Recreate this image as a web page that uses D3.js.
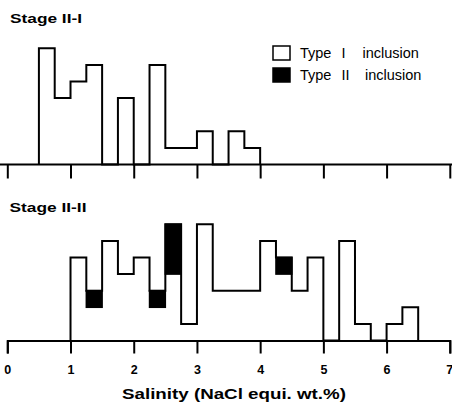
<!DOCTYPE html>
<html>
<head>
  <script src="https://d3js.org/d3.v7.min.js"></script>
  <style>
    body { margin: 0; background: #fff; }
    text { font-family: "Liberation Sans", Arial, sans-serif; }
  </style>
</head>
<body>
  <svg id="chart" width="452" height="405"></svg>

  <script>
    // histogram bins (lower edge, width 0.25)
    var binWidth = 0.25;
    var stage1Bins = [0.5, 0.75, 1.0, 1.25, 1.5, 1.75, 2.0, 2.25, 2.5, 2.75, 3.0, 3.25, 3.5, 3.75];
    var stage1TypeI = [7, 4, 5, 6, 0, 4, 0, 6, 1, 1, 2, 0, 2, 1];

    var stage2Bins = [1.0, 1.25, 1.5, 1.75, 2.0, 2.25, 2.5, 2.75, 3.0, 3.25, 3.5, 3.75,
                      4.0, 4.25, 4.5, 4.75, 5.0, 5.25, 5.5, 5.75, 6.0, 6.25];
    var stage2TypeI = [5, 2, 6, 4, 5, 2, 4, 1, 7, 3, 3, 3, 6, 4, 3, 5, 0, 6, 1, 0, 1, 2];
    var stage2TypeII = [0, 1, 0, 0, 0, 1, 3, 0, 0, 0, 0, 0, 0, 1, 0, 0, 0, 0, 0, 0, 0, 0];

    var xTicks = [0, 1, 2, 3, 4, 5, 6, 7];
    var legendLabels = [["Type", "I", "inclusion"], ["Type", "II", "inclusion"]];

    var svg = d3.select("#chart");

    var x = d3.scaleLinear().domain([0, 7]).range([7.3, 449.8]);
    var yTop = d3.scaleLinear().domain([0, 7]).range([164.5, 48.3]);
    var yBot = d3.scaleLinear().domain([0, 7]).range([340.5, 224.3]);

    // step outline of a histogram
    function outline(bins, counts) {
      var pts = [[bins[0], 0]];
      bins.forEach(function(b, i) {
        pts.push([b, counts[i]]);
        pts.push([b + binWidth, counts[i]]);
      });
      pts.push([bins[bins.length - 1] + binWidth, 0]);
      return pts;
    }

    function drawPanel(y, bins, typeI, typeII) {
      var total = typeI.map(function(v, i) { return v + (typeII ? typeII[i] : 0); });
      var line = d3.line()
        .x(function(d) { return x(d[0]); })
        .y(function(d) { return y(d[1]); });

      svg.append("path")
        .datum(outline(bins, total))
        .attr("d", line)
        .attr("fill", "#fff")
        .attr("stroke", "#000")
        .attr("stroke-width", 2)
        .attr("stroke-linejoin", "miter");

      if (typeII) {
        var blocks = bins.map(function(b, i) {
          return { x0: b, lo: typeI[i], hi: total[i] };
        }).filter(function(d) { return d.hi > d.lo; });

        svg.selectAll(null)
          .data(blocks)
          .enter()
          .append("rect")
          .attr("x", function(d) { return x(d.x0); })
          .attr("y", function(d) { return y(d.hi); })
          .attr("width", function(d) { return x(d.x0 + binWidth) - x(d.x0); })
          .attr("height", function(d) { return y(d.lo) - y(d.hi); })
          .attr("fill", "#000")
          .attr("stroke", "#000")
          .attr("stroke-width", 1.5);
      }
    }

    drawPanel(yTop, stage1Bins, stage1TypeI, null);
    drawPanel(yBot, stage2Bins, stage2TypeI, stage2TypeII);

    // top axis (no labels)
    var topAxis = svg.append("g")
      .attr("transform", "translate(0," + yTop(0) + ")")
      .call(d3.axisBottom(x).tickValues(xTicks).tickSize(14).tickFormat(""));
    topAxis.select(".domain").remove();
    topAxis.selectAll("line").attr("stroke-width", 2);
    svg.append("line")
      .attr("x1", 0).attr("x2", 452)
      .attr("y1", yTop(0)).attr("y2", yTop(0))
      .attr("stroke", "#000").attr("stroke-width", 2);

    // bottom axis
    var botAxis = svg.append("g")
      .attr("transform", "translate(0," + yBot(0) + ")")
      .call(d3.axisBottom(x).tickValues(xTicks).tickSize(13).tickPadding(12)
        .tickFormat(d3.format("d")));
    botAxis.select(".domain").attr("stroke-width", 2);
    botAxis.selectAll("line").attr("stroke-width", 2);
    botAxis.selectAll("text")
      .attr("font-size", "12.5px")
      .attr("font-weight", "bold")
      .attr("font-family", "'Liberation Sans', Arial, sans-serif");
    botAxis.selectAll("text")
      .filter(function(d) { return d === 7; })
      .attr("text-anchor", "end")
      .attr("dx", 3);

    // axis title
    svg.append("text")
      .attr("x", 234)
      .attr("y", 399)
      .attr("text-anchor", "middle")
      .attr("font-size", "14.5px")
      .attr("font-weight", "bold")
      .attr("textLength", 224)
      .attr("lengthAdjust", "spacingAndGlyphs")
      .text("Salinity (NaCl equi. wt.%)");

    // panel labels
    svg.append("text")
      .attr("x", 10).attr("y", 22.5)
      .attr("font-size", "13.5px").attr("font-weight", "bold")
      .attr("textLength", 72).attr("lengthAdjust", "spacingAndGlyphs")
      .text("Stage II-I");
    svg.append("text")
      .attr("x", 9.5).attr("y", 212)
      .attr("font-size", "13.5px").attr("font-weight", "bold")
      .attr("textLength", 77).attr("lengthAdjust", "spacingAndGlyphs")
      .text("Stage II-II");

    // legend
    var legend = svg.append("g");
    var rowY = [46, 68];
    var wordX = [[300, 341.5, 362.5], [300, 341.5, 365]];
    legendLabels.forEach(function(words, i) {
      legend.append("rect")
        .attr("x", 273).attr("y", rowY[i])
        .attr("width", 17).attr("height", 14)
        .attr("fill", i === 0 ? "#fff" : "#000")
        .attr("stroke", "#000").attr("stroke-width", 1.5);
      var t = legend.append("text")
        .attr("y", rowY[i] + 12)
        .attr("font-size", "14.5px");
      words.forEach(function(w, j) {
        t.append("tspan").attr("x", wordX[i][j]).text(w);
      });
    });
  </script>
</body>
</html>
